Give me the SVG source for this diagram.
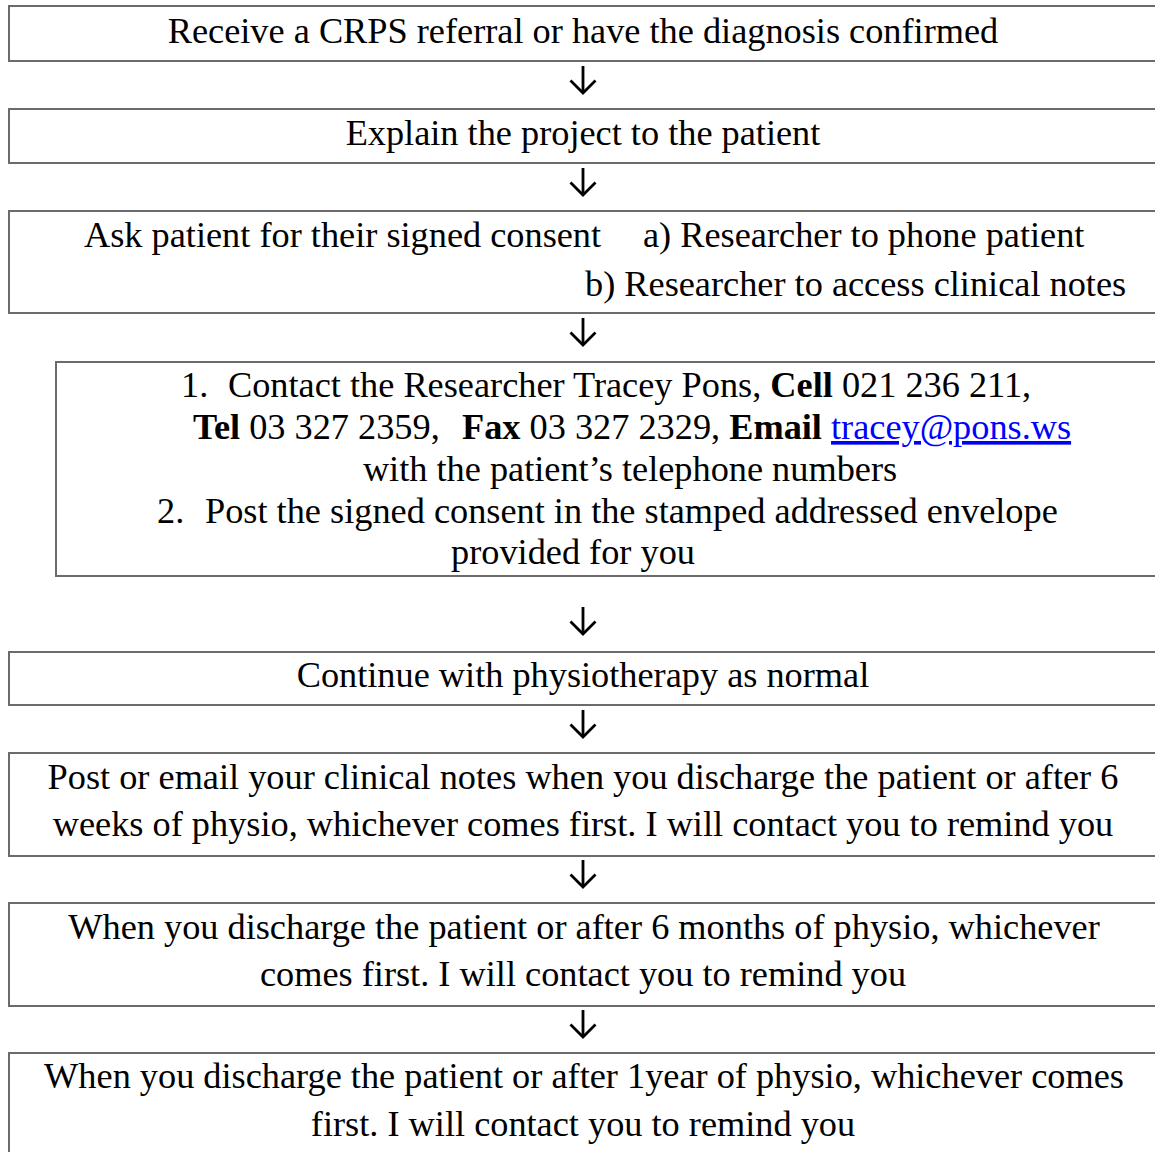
<svg xmlns="http://www.w3.org/2000/svg" width="1155" height="1152" viewBox="0 0 1155 1152">
<style>
.box{fill:#fff;stroke:#6b6b6b;stroke-width:2}
text{font-family:"Liberation Serif","Times New Roman",serif;font-size:36.3px;fill:#000}
.c{text-anchor:middle}
.b{font-weight:bold}
.lnk{fill:#0000ff;text-decoration:underline}
.conn{stroke:#000;stroke-width:2.8;fill:none}
</style>
<defs>
<marker id="head" viewBox="-16 -16 18 32" refX="0" refY="0" markerWidth="18" markerHeight="32" markerUnits="userSpaceOnUse" orient="auto">
<path d="M-12.5,-12.5 L0,0 L-12.5,12.5" fill="none" stroke="#000" stroke-width="2.8"/>
</marker>
</defs>
<rect width="1155" height="1152" fill="#fff"/>
<g id="connectors">
<path class="conn" d="M583,66 V93" marker-end="url(#head)"/>
<path class="conn" d="M583,168 V195" marker-end="url(#head)"/>
<path class="conn" d="M583,318 V345" marker-end="url(#head)"/>
<path class="conn" d="M583,607 V634" marker-end="url(#head)"/>
<path class="conn" d="M583,710 V737" marker-end="url(#head)"/>
<path class="conn" d="M583,860 V887" marker-end="url(#head)"/>
<path class="conn" d="M583,1010 V1037" marker-end="url(#head)"/>
</g>
<g id="n1">
<rect class="box" x="9" y="6" width="1160" height="55"/>
<text class="c" x="583" y="43">Receive a CRPS referral or have the diagnosis confirmed</text>
</g>
<g id="n2">
<rect class="box" x="9" y="109" width="1160" height="54"/>
<text class="c" x="583" y="145">Explain the project to the patient</text>
</g>
<g id="n3">
<rect class="box" x="9" y="211" width="1160" height="102"/>
<text x="84" y="247">Ask patient for their signed consent</text>
<text x="643" y="247">a) Researcher to phone patient</text>
<text x="585" y="296">b) Researcher to access clinical notes</text>
</g>
<g id="n4">
<rect class="box" x="56" y="362" width="1110" height="214"/>
<text y="397"><tspan x="181">1.</tspan><tspan x="228">Contact the Researcher Tracey Pons, </tspan><tspan class="b">Cell</tspan><tspan> 021 236 211,</tspan></text>
<text y="439"><tspan x="193" class="b">Tel</tspan><tspan> 03 327 2359,</tspan><tspan x="462" class="b">Fax</tspan><tspan> 03 327 2329, </tspan><tspan class="b">Email</tspan><tspan> </tspan><tspan class="lnk">tracey@pons.ws</tspan></text>
<text class="c" x="630" y="481">with the patient’s telephone numbers</text>
<text y="523"><tspan x="157">2.</tspan><tspan x="205">Post the signed consent in the stamped addressed envelope</tspan></text>
<text class="c" x="573" y="564">provided for you</text>
</g>
<g id="n5">
<rect class="box" x="9" y="652" width="1160" height="53"/>
<text class="c" x="583" y="687">Continue with physiotherapy as normal</text>
</g>
<g id="n6">
<rect class="box" x="9" y="753" width="1160" height="103"/>
<text class="c" x="583" y="789">Post or email your clinical notes when you discharge the patient or after 6</text>
<text class="c" x="583" y="836">weeks of physio, whichever comes first. I will contact you to remind you</text>
</g>
<g id="n7">
<rect class="box" x="9" y="903" width="1160" height="103"/>
<text class="c" x="584" y="939">When you discharge the patient or after 6 months of physio, whichever</text>
<text class="c" x="583" y="986">comes first. I will contact you to remind you</text>
</g>
<g id="n8">
<rect class="box" x="9" y="1053" width="1160" height="120"/>
<text class="c" x="584" y="1088">When you discharge the patient or after 1year of physio, whichever comes</text>
<text class="c" x="583" y="1136">first. I will contact you to remind you</text>
</g>
</svg>
